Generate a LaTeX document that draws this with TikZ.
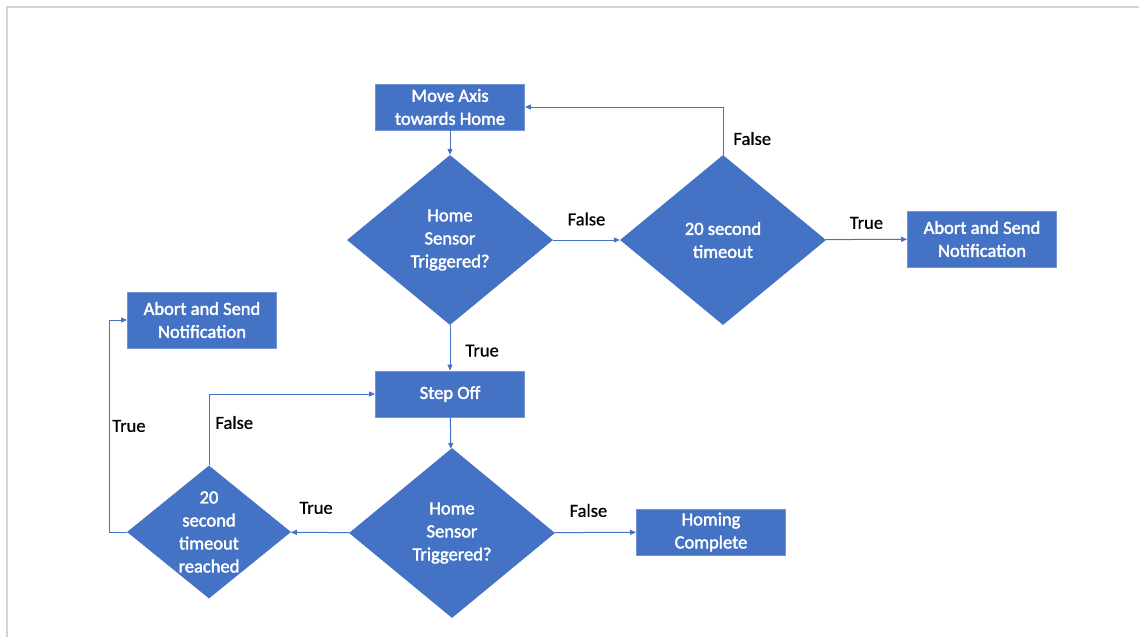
\documentclass[tikz,border=0pt]{standalone}
\usepackage{fontspec}
\setmainfont{Carlito}
\newfontfamily\boxfont[FakeBold=2]{Carlito}
\newfontfamily\lblfont[FakeBold=0.6]{Carlito}
\usetikzlibrary{shapes.geometric,arrows.meta}
\definecolor{office}{HTML}{4472C4}
\definecolor{sheet}{HTML}{D3D3D3}

\begin{document}
\begin{tikzpicture}[->, >={Triangle[length=6pt,width=5pt]}, x=1pt, y=-1pt,
		every node/.style={font=\boxfont\fontsize{18.5}{23}\selectfont},
		box/.style={rectangle, fill=office, draw=office!75!white, line width=0.8pt, text=white, align=center, minimum width=149pt, minimum height=46pt, inner sep=2pt},
		decide/.style={diamond, fill=office, text=white, align=center, inner sep=-30pt, minimum width=206pt, minimum height=170pt},
		wire/.style={draw=office, line width=1pt},
		lbl/.style={text=black, inner sep=1pt, font=\lblfont\fontsize{18.5}{23}\selectfont}]
			\useasboundingbox (0,0) rectangle (1139,637);
			\draw[-, sheet, line width=2pt] (7,637) -- (7,7) -- (1139,7);
		
			\node[box] (move) at (450,107) {Move Axis\\towards Home};
			\node[decide] (sense1) at (450,240) {Home\\Sensor\\Triggered?};
			\node[decide] (timer1) at (723,240) {20 second\\timeout};
			\node[box, minimum height=56pt] (abort1) at (982,239) {Abort and Send\\Notification};
	        
			\node[box, minimum height=56pt] (abort2) at (202,320) {Abort and Send\\Notification};
			\node[box] (step) at (450,394) {Step Off};
			\node[decide] (sense2) at (452,533) {Home\\Sensor\\Triggered?};
			\node[decide, minimum width=164pt, minimum height=133pt] (timer2) at (209,532) {20\\second\\timeout\\reached};
			\node[box] (done) at (711,532) {Homing\\Complete};
	
			\foreach \from / \to in {move/sense1,step/sense2}
				\draw[wire] (\from) -- (\to);
			
			\draw[wire] (sense1) -- node[lbl, above=13pt] {False} (timer1);
			\draw[wire] (timer1.north) |- node[lbl, pos=0.17, right=9pt] {False} (move.east);
			\draw[wire] (timer1) -- node[lbl, above=9pt] {True} (abort1);
			\draw[wire] (sense1) -- node[lbl, pos=0.56, right=14pt] {True} (step);
			
			\draw[wire] (sense2) -- node[lbl, above=17pt, xshift=-4pt] {True} (timer2);
			\draw[wire] (sense2) -- node[lbl, above=14pt, xshift=-7pt] {False} (done);
			\draw[wire] (timer2.north) |- node[lbl, pos=0.3, right=5pt] {False} (step.west);
			\draw[wire] (timer2.west) -- ++(-17,0) |- node[lbl, pos=0.25, right=1pt] {True} (abort2.west);
		\end{tikzpicture}
\end{document}
